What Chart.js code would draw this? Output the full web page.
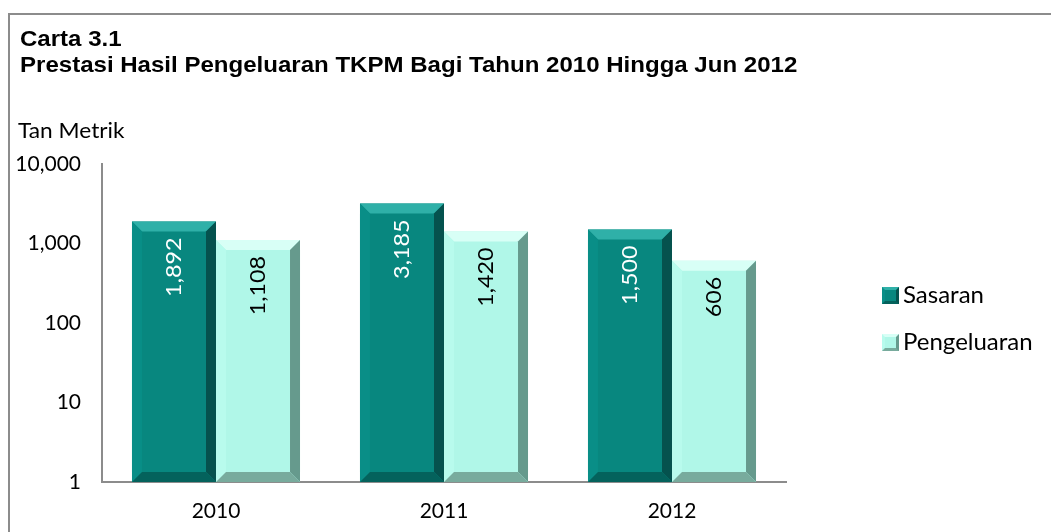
<!DOCTYPE html>
<html>
<head>
<meta charset="utf-8">
<script src="https://cdn.jsdelivr.net/npm/chart.js@4/dist/chart.umd.min.js"></script>
<style>
  html, body { margin: 0; padding: 0; background: #fff; }
  body { width: 1051px; height: 532px; position: relative; overflow: hidden; }
  #frame { position: absolute; left: 8px; top: 13px; width: 1100px; height: 600px; border: 2px solid #8c8c8c; box-sizing: border-box; }
  #title { position: absolute; left: 20px; top: 26px; font-family: "Liberation Sans", Arial, sans-serif; font-weight: bold; font-size: 22px; line-height: 26px; color: #000; transform: scaleX(1.093); transform-origin: 0 0; white-space: nowrap; }
  #unit { position: absolute; left: 18px; top: 117px; font-family: Lato, "Open Sans", sans-serif; font-size: 21px; color: #000; transform: scaleX(1.08); transform-origin: 0 0; }
  #legend { position: absolute; left: 882px; top: 279px; font-family: Lato, "Open Sans", sans-serif; font-size: 24px; color: #000; }
  .li { height: 47px; display: flex; align-items: flex-start; }
  .sw { width: 17px; height: 17px; margin-right: 4px; margin-top: 8px; box-sizing: border-box; }
  #wrap { position: absolute; left: 0; top: 0; width: 1051px; height: 532px; }
</style>
</head>
<body>
<div id="frame"></div>
<div id="wrap"><canvas id="c" width="1051" height="532"></canvas></div>
<div id="title">Carta 3.1<br>Prestasi Hasil Pengeluaran TKPM Bagi Tahun 2010 Hingga Jun 2012</div>
<div id="unit">Tan Metrik</div>
<div id="legend"></div>
<script>
const categories = ["2010", "2011", "2012"];
const seriesNames = ["Sasaran", "Pengeluaran"];
const sasaran = [1892, 3185, 1500];
const pengeluaran = [1108, 1420, 606];
const yTicks = [1, 10, 100, 1000, 10000];

const palette = [
  { main: "#08877f", top: "#2fb0a8", left: "#098e87", right: "#05524e", bottom: "#04625c", label: "#ffffff" },
  { main: "#b0f7e8", top: "#d8fff6", left: "#b8fbed", right: "#669a8d", bottom: "#78ab9d", label: "#000000" }
];

const fmt = v => v.toLocaleString("en-US");

const bevelPlugin = {
  id: "bevel",
  afterDatasetsDraw(chart) {
    const ctx = chart.ctx;
    chart.data.datasets.forEach((ds, di) => {
      const meta = chart.getDatasetMeta(di);
      const p = palette[di];
      meta.data.forEach((bar, i) => {
        const w = bar.width;
        const L = bar.x - w / 2, R = bar.x + w / 2, T = bar.y, B = bar.base;
        const b = 10;
        ctx.save();
        const poly = (pts, c) => {
          ctx.beginPath();
          ctx.moveTo(pts[0][0], pts[0][1]);
          for (let k = 1; k < pts.length; k++) ctx.lineTo(pts[k][0], pts[k][1]);
          ctx.closePath();
          ctx.fillStyle = c;
          ctx.fill();
        };
        poly([[L, T], [R, T], [R - b, T + b], [L + b, T + b]], p.top);
        poly([[L, T], [L + b, T + b], [L + b, B - b], [L, B]], p.left);
        poly([[R, T], [R, B], [R - b, B - b], [R - b, T + b]], p.right);
        poly([[L, B], [L + b, B - b], [R - b, B - b], [R, B]], p.bottom);
        ctx.translate(bar.x, T + 16);
        ctx.rotate(-Math.PI / 2);
        ctx.scale(1.06, 1);
        ctx.fillStyle = p.label;
        ctx.font = '22px Lato, "Open Sans", sans-serif';
        ctx.textAlign = "right";
        ctx.textBaseline = "middle";
        ctx.fillText(fmt(ds.data[i]), 0, 0);
        ctx.restore();
      });
    });
  }
};

const chart = new Chart(document.getElementById("c"), {
  type: "bar",
  data: {
    labels: categories,
    datasets: [
      { label: seriesNames[0], data: sasaran, backgroundColor: palette[0].main, categoryPercentage: 0.737, barPercentage: 1.0 },
      { label: seriesNames[1], data: pengeluaran, backgroundColor: palette[1].main, categoryPercentage: 0.737, barPercentage: 1.0 }
    ]
  },
  options: {
    responsive: false,
    animation: false,
    devicePixelRatio: 1,
    layout: { padding: { left: 0, right: 265, top: 164, bottom: 0 } },
    plugins: { legend: { display: false }, tooltip: { enabled: false } },
    scales: {
      x: {
        grid: { display: false, drawTicks: false },
        border: { display: true, color: "#8c8c8c", width: 2 },
        afterFit: (s) => { s.height = 50; },
        ticks: { color: "#000", font: { family: 'Lato, "Open Sans", sans-serif', size: 21 }, padding: 17 }
      },
      y: {
        type: "logarithmic",
        min: 1,
        max: 10000,
        grid: { display: false, drawTicks: false },
        border: { display: true, color: "#8c8c8c", width: 2 },
        afterBuildTicks: (s) => { s.ticks = yTicks.map(v => ({ value: v })); },
        afterFit: (s) => { s.width = 102; },
        ticks: {
          color: "#000",
          font: { family: 'Lato, "Open Sans", sans-serif', size: 21 },
          padding: 21,
          callback: (v) => fmt(v)
        }
      }
    }
  },
  plugins: [bevelPlugin]
});

const leg = document.getElementById("legend");
seriesNames.forEach((n, i) => {
  const d = document.createElement("div");
  d.className = "li";
  const sw = document.createElement("div");
  sw.className = "sw";
  sw.style.background = palette[i].main;
  sw.style.borderTop = "3px solid " + palette[i].top;
  sw.style.borderRight = "3px solid " + palette[i].right;
  sw.style.borderBottom = "3px solid " + palette[i].bottom;
  sw.style.borderLeft = "3px solid " + palette[i].left;
  const t = document.createElement("span");
  t.textContent = n;
  d.appendChild(sw); d.appendChild(t);
  leg.appendChild(d);
});
</script>
</body>
</html>
